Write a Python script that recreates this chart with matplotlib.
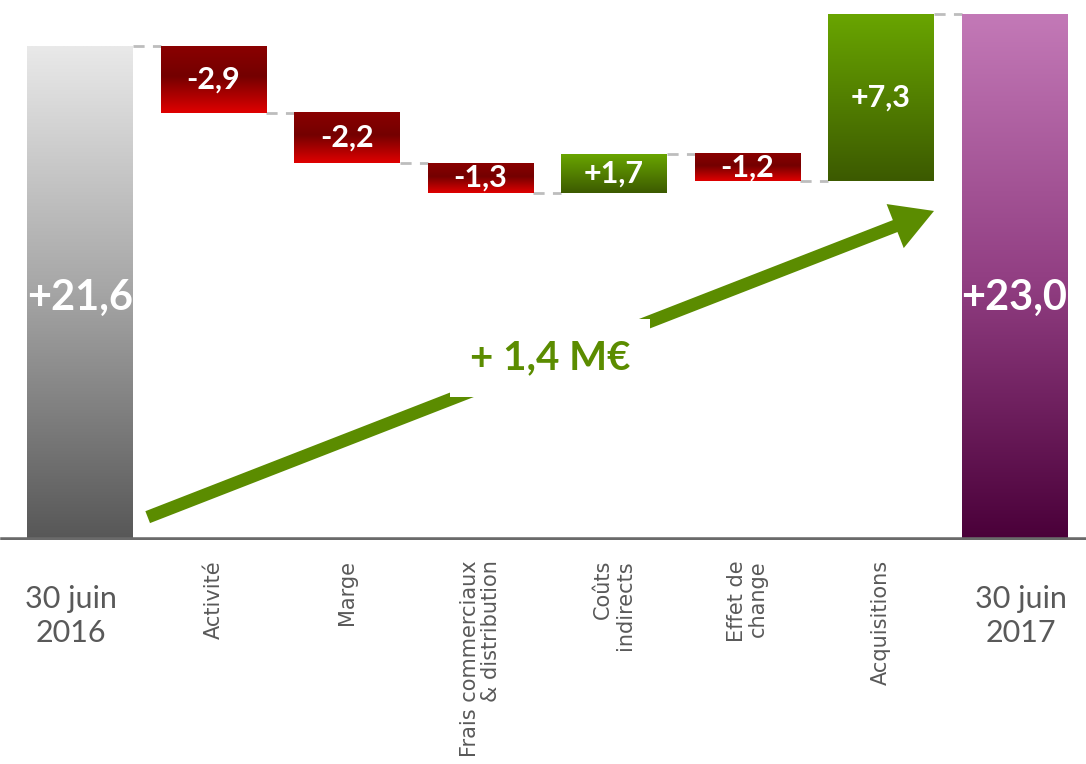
import numpy as np
import matplotlib.pyplot as plt
from matplotlib.colors import LinearSegmentedColormap

# Data
labels = ["30 juin\n2016", "Activité", "Marge", "Frais commerciaux\n& distribution",
          "Coûts\nindirects", "Effet de\nchange", "Acquisitions", "30 juin\n2017"]
values = [21.6, -2.9, -2.2, -1.3, 1.7, -1.2, 7.3, 23.0]
kinds = ["start", "delta", "delta", "delta", "delta", "delta", "delta", "end"]
total_text = "+ 1,4 M€"

# Gradient colour maps (top -> bottom)
cmaps = {
    "start": LinearSegmentedColormap.from_list("g", ["#e9e9e9", "#a5a5a5", "#575757"]),
    "end": LinearSegmentedColormap.from_list("p", ["#c379b7", "#923f83", "#4a0039"]),
    "neg": LinearSegmentedColormap.from_list("r", [(0, "#8a0000"), (0.45, "#740000"), (1, "#e00000")]),
    "pos": LinearSegmentedColormap.from_list("v", ["#69a500", "#3c5a00"]),
}

fig = plt.figure(figsize=(10.86, 7.64), dpi=100)
ax = fig.add_axes([0, 1 - 540 / 764, 1, 540 / 764])

w = 0.794
grad = np.linspace(0, 1, 256).reshape(-1, 1)

# compute bar extents
bottoms, tops = [], []
level = 0
for v, k in zip(values, kinds):
    if k == "delta":
        b, t = sorted([level, level + v])
        level += v
    else:
        b, t = 0, v
        level = v
    bottoms.append(b)
    tops.append(t)

levels = np.cumsum([values[0]] + values[1:-1])

for i, (v, k) in enumerate(zip(values, kinds)):
    if k == "delta":
        cm = cmaps["neg"] if v < 0 else cmaps["pos"]
    else:
        cm = cmaps[k]
    ax.imshow(grad, cmap=cm, extent=[i - w / 2, i + w / 2, bottoms[i], tops[i]],
              aspect="auto", zorder=2, interpolation="bilinear")
    txt = "{:+.1f}".format(v).replace(".", ",")
    big = k != "delta"
    ty = tops[0] / 2 - 0.2 if big else (bottoms[i] + tops[i]) / 2
    ax.text(i, ty, txt, ha="center", va="center", color="white", fontweight="bold",
            family="Lato", fontsize=30 if big else 22, zorder=3)

# dashed connectors
for i in range(len(values) - 1):
    lv = levels[i] if i < len(levels) else values[-1]
    ax.plot([i + w / 2, i + 1 - w / 2], [lv, lv], color="#bdbdbd", lw=2,
            dashes=(4, 3), zorder=1)

# baseline
ax.axhline(0, xmin=0.003, color="#6a6a6a", lw=4, zorder=4)

# trend arrow
ax.annotate("", xy=(6 + w / 2, 14.4), xytext=(w / 2 + 0.11, 1.0),
            arrowprops=dict(arrowstyle="simple,head_length=0.75,head_width=0.85,tail_width=0.23",
                            mutation_scale=40, color="#5b8c00", shrinkA=0, shrinkB=0,
                            lw=0),
            zorder=5)
ax.text(3.52, 7.97, total_text, ha="center", va="center", color="#5b8c00",
        fontweight="bold", family="Lato", fontsize=29, zorder=6,
        bbox=dict(facecolor="white", edgecolor="none", boxstyle="square,pad=0.5"))

# category labels
trans = ax.get_xaxis_transform()
for i, lab in enumerate(labels):
    if kinds[i] == "delta":
        ax.text(i, -20 / 540, lab, transform=trans, rotation=90, ha="center", va="top",
                multialignment="right", color="#595959", fontsize=15,
                family="DejaVu Sans", linespacing=1.1, clip_on=False)
    else:
        ax.text(i - 0.07 if i == 0 else i + 0.05, -76 / 540, lab, transform=trans,
                ha="center", va="center", color="#595959", fontsize=22,
                family="Lato", linespacing=1.3, clip_on=False)

ax.set_xlim(-80 / 133.5, (1086 - 80) / 133.5)
ax.set_ylim(0, 540 / 22.85)
ax.axis("off")

fig.savefig("out.png", dpi=100)
